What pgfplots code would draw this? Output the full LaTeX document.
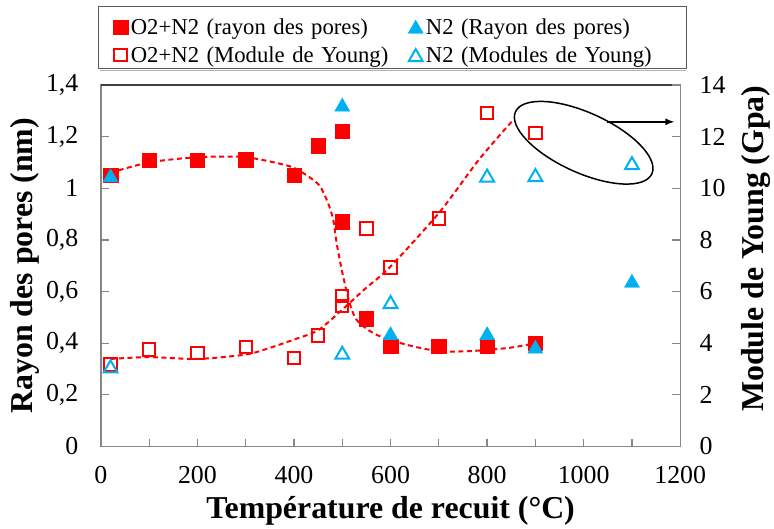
\documentclass[border=0pt]{standalone}
\usepackage{fontspec}
\setmainfont{Liberation Serif}
\usepackage{pgfplots}
\pgfplotsset{compat=1.18}
\usetikzlibrary{arrows.meta}
\definecolor{xred}{HTML}{FF0000}
\definecolor{xblue}{HTML}{00B0F0}
\definecolor{axgray}{HTML}{878787}
\definecolor{topgray}{HTML}{404040}

\pgfplotsset{
  mybase/.style={
    scale only axis, width=580bp, height=362bp,
    at={(0bp,0bp)}, anchor=south west,
    xmin=0, xmax=1200,
    xtick={0,100,...,1200},
    xticklabels={0,,200,,400,,600,,800,,1000,,1200},
    tick label style={font=\fontsize{26}{30}\selectfont},
    /pgf/number format/assume math mode=true,
    /pgf/number format/use comma,
    label style={font=\fontsize{32}{37}\selectfont\bfseries},
    axis line style={axgray, line width=1.3bp},
    tick style={axgray, line width=1.3bp},
    major tick length=8bp,
    tick align=inside,
    clip=false,
  },
  legimg/.style={legend image code/.code={\draw[##1] plot coordinates {(0bp,0bp)}; \path (-23bp,0bp) (9bp,0bp);}},
  sqf/.style={only marks, mark=square*, mark size=7.2bp, mark options={solid, draw=xred, fill=xred, line width=0.3bp}, legimg},
  trif/.style={only marks, mark=triangle*, mark size=8.8bp, mark options={solid, draw=xblue, fill=xblue, line width=0.3bp, yshift=-2bp}, legimg},
  sqo/.style={only marks, mark=square, mark size=6.2bp, mark options={solid, draw=xred, line width=2bp}, legimg},
  trio/.style={only marks, mark=triangle, mark size=8bp, mark options={solid, draw=xblue, line width=2bp, yshift=-2bp}, legimg},
  fitline/.style={xred, line width=2bp, dash pattern=on 5bp off 3.5bp, smooth, tension=0.45, no marks},
}

\begin{document}
\begin{tikzpicture}
\begin{axis}[mybase,
  ymin=0, ymax=1.4,
  ytick={0,0.2,0.4,0.6,0.8,1,1.2,1.4},
  ytick pos=left, xtick pos=bottom,
  yticklabel style={xshift=-19bp},
  xticklabel style={yshift=-16bp},
  xlabel={Température de recuit (°C)},
  ylabel={Rayon des pores (nm)},
  xlabel style={at={(axis description cs:0.5,-0.198)}, anchor=base},
  ylabel style={at={(axis description cs:-0.131,0.5)}, anchor=center},
]
\addplot[fitline] coordinates {
 (20,1.06) (100,1.10) (200,1.12) (300,1.12) (391,1.085) (426,1.05) (453,1.01)
 (470,0.945) (481,0.88) (489,0.78) (501,0.665) (515,0.557) (529,0.492)
 (557,0.447) (591,0.417) (646,0.388) (701,0.369) (763,0.369) (846,0.382) (900,0.40)
};
\addplot[sqf] coordinates {
 (20,1.051) (100,1.109) (200,1.109) (300,1.11) (400,1.051) (450,1.165)
 (500,1.22) (500,0.870) (550,0.495) (600,0.388) (700,0.388) (800,0.388) (900,0.399)
};
\addplot[trif] coordinates {
 (20,1.049) (500,1.323) (600,0.438) (800,0.438) (900,0.386) (1100,0.641)
};
\draw[topgray, line width=1.3bp] (rel axis cs:0,1) -- (rel axis cs:1,1);
\end{axis}

\begin{axis}[mybase,
  ymin=0, ymax=14,
  ytick={0,2,4,6,8,10,12,14},
  axis y line*=right, axis x line=none,
  yticklabel style={xshift=16bp},
  ylabel={Module de Young (Gpa)},
  ylabel style={at={(axis description cs:1.131,0.547)}, anchor=center},
  legend columns=2,
  legend style={at={(axis description cs:0.5,1)}, anchor=south, xshift=2bp, yshift=15bp,
    draw=none, fill=none, font=\fontsize{22.8}{26}\selectfont,
    inner xsep=0bp, inner ysep=4bp, row sep=7bp,
    nodes={text width=261bp, align=left, inner xsep=1bp, inner ysep=2bp}},
]
\addlegendimage{sqf}
\addlegendentry{O2+N2 (rayon des pores)}
\addlegendimage{trif}
\addlegendentry{N2 (Rayon des pores)}
\addplot[fitline, forget plot] coordinates {
 (20,3.39) (100,3.46) (200,3.39) (300,3.56) (350,3.82) (400,4.14) (450,4.5)
 (500,5.3) (550,6.15) (598,6.93) (701,9.06) (784,11.13) (853,12.62)
};
\addplot[sqo] coordinates {
 (20,3.17) (100,3.76) (200,3.63) (300,3.85) (400,3.43) (450,4.30)
 (500,5.83) (500,5.44) (550,8.44) (600,6.93) (700,8.83) (800,12.92) (900,12.14)
};
\addlegendentry{O2+N2 (Module de Young)}
\addplot[trio] coordinates {
 (20,3.1) (500,3.63) (600,5.59) (800,10.49) (900,10.51) (1100,10.97)
};
\addlegendentry{N2 (Modules de Young)}
\draw[black!65, line width=1bp] (axis description cs:-0.00345,1.0442) rectangle (axis description cs:1.0103,1.2155);
\draw[black!30, line width=1bp] (axis description cs:-0.0017,1.040) -- (axis description cs:1.0103,1.040);
\draw[black, line width=1.5bp, rotate around={-24.5:(axis cs:1000,11.76)}] (axis cs:1000,11.76) ellipse [x radius=75bp, y radius=30bp];
\draw[black, line width=1.5bp, -{Latex[length=9bp,width=7bp]}] (axis cs:1049,12.57) -- (axis cs:1188,12.57);
\end{axis}
\path[use as bounding box] (-101bp,-79bp) rectangle (673bp,447bp);
\end{tikzpicture}
\end{document}
